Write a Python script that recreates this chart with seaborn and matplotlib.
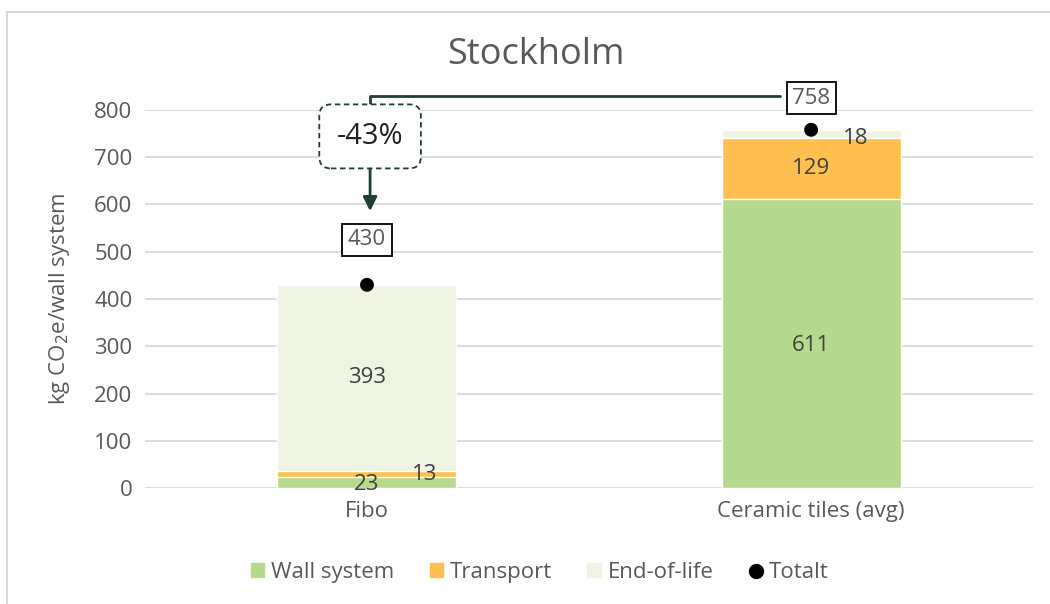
import numpy as np
import pandas as pd
import matplotlib.pyplot as plt
import seaborn as sns
from matplotlib.lines import Line2D
from matplotlib.patches import Patch

categories = ['Fibo', 'Ceramic tiles (avg)']
wall_system = [23.4, 611.0]
transport = [13.2, 129.0]
end_of_life = [393.4, 18.0]
series = ['Wall system', 'Transport', 'End-of-life']
colors = ['#B5D98D', '#FFC04F', '#EFF3E2']

df = pd.DataFrame({'category': categories, 'Wall system': wall_system,
                   'Transport': transport, 'End-of-life': end_of_life})
df['cum1'] = df['Wall system']
df['cum2'] = df['cum1'] + df['Transport']
df['Totalt'] = df['cum2'] + df['End-of-life']

sns.set_theme(style='white')
plt.rcParams['font.family'] = ['Open Sans', 'DejaVu Sans']
txt = '#595959'

fig = plt.figure(figsize=(10.5, 6.04), dpi=100)
ax = fig.add_axes([0.138, 0.192, 0.846, 0.626])

# stacked bars drawn as overlapping cumulative bars
for col, c in [('Totalt', colors[2]), ('cum2', colors[1]), ('cum1', colors[0])]:
    sns.barplot(data=df, x='category', y=col, color=c, width=0.403,
                saturation=1, ax=ax, zorder=2)

sns.scatterplot(data=df, x='category', y='Totalt', color='black', s=100,
                edgecolor='none', ax=ax, zorder=4, legend=False)

ax.set_ylim(0, 800)
ax.set_xlim(-0.5, 1.5)
ax.set_yticks(range(0, 801, 100))
ax.yaxis.grid(True, color='#D9D9D9', linewidth=1.3, zorder=0)
ax.set_axisbelow(True)
for s in ax.spines.values():
    s.set_visible(False)
ax.tick_params(axis='both', length=0, labelsize=16, colors=txt, pad=9)
ax.set_xlabel('')
ax.set_ylabel('kg CO$_2$e/wall system', fontsize=16, color=txt, labelpad=16)
fig.text(0.51, 0.909, 'Stockholm', ha='center', va='center', fontsize=26,
         color=txt)

# segment labels
lab = dict(ha='center', va='center', fontsize=16, color='#404040', zorder=5)
for i in range(len(categories)):
    w, t, e = wall_system[i], transport[i], end_of_life[i]
    ax.text(i, w / 2 - 4, f'{w:.0f}', **lab)
    if t > 50:
        ax.text(i, w + t / 2, f'{t:.0f}', **lab)
    else:
        ax.text(i + 0.13, w + t / 2 - 2, f'{t:.0f}', **lab)
    if e > 50:
        ax.text(i, w + t + e / 2, f'{e:.0f}', **lab)
    else:
        ax.text(i + 0.1, w + t + e / 2 - 10, f'{e:.0f}', **lab)

# boxed totals
tot = df['Totalt'].tolist()
box = dict(boxstyle='square,pad=0.25', fc='white', ec='black', lw=1.3)
ax.text(0, tot[0] + 95, f'{tot[0]:.0f}', ha='center', va='center',
        fontsize=16, color=txt, bbox=box, zorder=6)
ax.text(1, tot[1] + 67, f'{tot[1]:.0f}', ha='center', va='center',
        fontsize=16, color=txt, bbox=box, zorder=6)

# change annotation
green = '#1F3F33'
pct = round((tot[0] - tot[1]) / tot[1] * 100)
ax.plot([0.93, 0.007, 0.007], [830, 830, 798], color=green, lw=2,
        clip_on=False, zorder=5)
ax.text(0.007, 744, f'{pct}%', ha='center', va='center', fontsize=21,
        color='#222222', zorder=6,
        bbox=dict(boxstyle='round,pad=0.6,rounding_size=0.4', fc='white',
                  ec=green, lw=1.3, ls=(0, (3, 2))))
ax.annotate('', xy=(0.007, 580), xytext=(0.007, 690),
            arrowprops=dict(arrowstyle='-|>,head_width=0.35,head_length=0.7',
                            color=green, lw=2), zorder=5)

handles = [Patch(color=c, label=s) for s, c in zip(series, colors)]
handles.append(Line2D([], [], marker='o', ls='', color='black',
                      markersize=10, label='Totalt'))
fig.legend(handles=handles, loc='center', bbox_to_anchor=(0.514, 0.052),
           ncol=4, frameon=False, fontsize=16, handlelength=0.6,
           handleheight=0.6, handletextpad=0.3, columnspacing=1.6,
           labelcolor=txt)

# chart border (left and top)
fig.add_artist(Line2D([0.0067, 0.0067], [0, 0.98], color='#D9D9D9', lw=1.5))
fig.add_artist(Line2D([0.0067, 1.0], [0.98, 0.98], color='#D9D9D9', lw=1.5))

fig.savefig('out.png', dpi=100)
